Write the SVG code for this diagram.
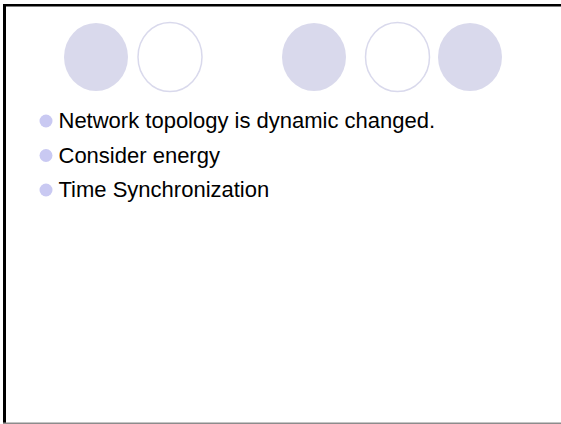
<svg xmlns="http://www.w3.org/2000/svg" width="561" height="424" viewBox="0 0 561 424">
<style>
.fill{fill:#d9d9ec}
.ring{fill:#ffffff;stroke:#d9d9ec;stroke-width:1.5}
.bullet{fill:#c9c9f2}
.txt{font-family:"Liberation Sans",Arial,sans-serif;font-size:22px;fill:#000000}
</style>
<rect width="561" height="424" fill="#ffffff"/>
<g id="frame">
<rect x="3" y="4" width="558" height="2.5" fill="#000000"/>
<rect x="3" y="4" width="3" height="420" fill="#000000"/>
<rect x="3" y="422.5" width="558" height="1.5" fill="#8c8c8c"/>
</g>
<g id="circles">
<ellipse class="fill" cx="96" cy="57" rx="32" ry="34"/>
<ellipse class="ring" cx="170" cy="57" rx="32" ry="34.5"/>
<ellipse class="fill" cx="314" cy="57" rx="32" ry="34"/>
<ellipse class="ring" cx="397.5" cy="57" rx="32" ry="34.5"/>
<ellipse class="fill" cx="470" cy="57" rx="32" ry="34"/>
</g>
<g id="bullets">
<circle class="bullet" cx="46" cy="121" r="6.5"/>
<text class="txt" x="58.5" y="128">Network topology is dynamic changed.</text>
<circle class="bullet" cx="46" cy="155.5" r="6.5"/>
<text class="txt" x="58.5" y="162.5">Consider energy</text>
<circle class="bullet" cx="46" cy="190" r="6.5"/>
<text class="txt" x="58.5" y="197">Time Synchronization</text>
</g>
</svg>
